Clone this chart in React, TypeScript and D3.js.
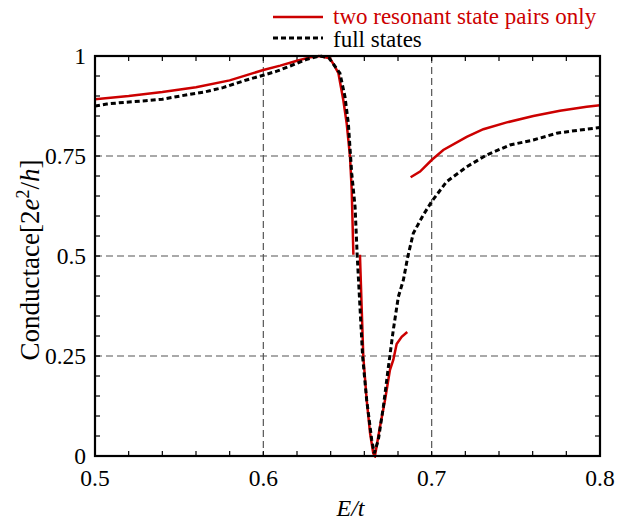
import React from "react";
import * as d3 from "d3";

const redE1 = [0.5, 0.52, 0.54, 0.56, 0.58, 0.6, 0.61, 0.62, 0.627, 0.633, 0.6396, 0.6426, 0.6446, 0.6475, 0.6495, 0.6515, 0.6525, 0.6535];
const redG1 = [0.892, 0.9, 0.91, 0.922, 0.939, 0.965, 0.976, 0.988, 0.996, 1.0, 0.994, 0.973, 0.957, 0.89, 0.832, 0.748, 0.665, 0.503];

const redE2 = [0.6574, 0.6584, 0.6594, 0.6614, 0.6634, 0.6653, 0.6663, 0.6693, 0.6723, 0.6752, 0.6772, 0.6792, 0.6822, 0.6855];
const redG2 = [0.503, 0.373, 0.248, 0.14, 0.057, 0.007, 0.0, 0.073, 0.14, 0.215, 0.24, 0.28, 0.298, 0.31];

const redE3 = [0.6875, 0.6931, 0.7, 0.7069, 0.7208, 0.7307, 0.7446, 0.7604, 0.7762, 0.7921, 0.8];
const redG3 = [0.697, 0.711, 0.74, 0.765, 0.798, 0.817, 0.834, 0.85, 0.863, 0.873, 0.877];

const fullE = [0.5, 0.507, 0.517, 0.53, 0.54, 0.556, 0.565, 0.576, 0.59, 0.6, 0.608, 0.616, 0.626, 0.6337, 0.639, 0.6416, 0.6455, 0.6485, 0.6505, 0.6525, 0.6545, 0.6558, 0.6574, 0.659, 0.6614, 0.6644, 0.6659, 0.6683, 0.6713, 0.6743, 0.6772, 0.6802, 0.6832, 0.6858, 0.6891, 0.695, 0.7, 0.7089, 0.7208, 0.7327, 0.7465, 0.7604, 0.7743, 0.7881, 0.8];
const fullG = [0.875, 0.88, 0.884, 0.888, 0.892, 0.904, 0.91, 0.921, 0.94, 0.952, 0.962, 0.975, 0.992, 1.0, 0.995, 0.98, 0.957, 0.898, 0.832, 0.707, 0.623, 0.498, 0.373, 0.248, 0.14, 0.04, 0.007, 0.04, 0.123, 0.223, 0.315, 0.398, 0.44, 0.498, 0.557, 0.6025, 0.636, 0.686, 0.723, 0.7525, 0.7775, 0.79, 0.807, 0.815, 0.821];

const xTicks = [0.5, 0.6, 0.7, 0.8];
const xTickLabels = ["0.5", "0.6", "0.7", "0.8"];
const yTicks = [0, 0.25, 0.5, 0.75, 1];
const yTickLabels = ["0", "0.25", "0.5", "0.75", "1"];
const xGrid = [0.6, 0.7];
const yGrid = [0.25, 0.5, 0.75];

const seriesNames = ["two resonant state pairs only", "full states"];

const W = 620;
const H = 524;
const left = 95;
const right = 600;
const top = 56;
const bottom = 456;
const FONT = "Liberation Serif, Times New Roman, DejaVu Serif, serif";
const RED = "#cc0000";
const fs = (size: number, extra: React.CSSProperties = {}): React.CSSProperties => ({ fontFamily: FONT, fontSize: size, ...extra });

export default function App() {
  const x = d3.scaleLinear().domain([0.5, 0.8]).range([left, right]);
  const y = d3.scaleLinear().domain([0, 1]).range([bottom, top]);
  const line = d3
    .line<[number, number]>()
    .x((d) => x(d[0]))
    .y((d) => y(d[1]))
    .curve(d3.curveLinear);
  const zip = (a: number[], b: number[]) => a.map((v, i) => [v, b[i]] as [number, number]);

  const xMinor = d3.range(0, 16).map((i) => 0.5 + i * 0.02);
  const yMinor = d3.range(0, 21).map((i) => i * 0.05);
  const tl = 5;

  return (
    <svg width={W} height={H} style={{ position: "absolute", left: 0, top: 0, background: "#fff" }}>
      <rect x={0} y={0} width={W} height={H} fill="#fff" />
      {xGrid.map((v) => (
        <line key={"gx" + v} x1={x(v)} x2={x(v)} y1={top} y2={bottom} stroke="#555" strokeWidth={1.2} strokeDasharray="7,4" />
      ))}
      {yGrid.map((v) => (
        <line key={"gy" + v} x1={left} x2={right} y1={y(v)} y2={y(v)} stroke="#555" strokeWidth={1.2} strokeDasharray="7,4" />
      ))}
      {xMinor.map((v, i) => (
        <g key={"xt" + i}>
          <line x1={x(v)} x2={x(v)} y1={bottom} y2={bottom - tl} stroke="#000" strokeWidth={1.2} />
          <line x1={x(v)} x2={x(v)} y1={top} y2={top + tl} stroke="#000" strokeWidth={1.2} />
        </g>
      ))}
      {yMinor.map((v, i) => (
        <g key={"yt" + i}>
          <line x1={left} x2={left + tl} y1={y(v)} y2={y(v)} stroke="#000" strokeWidth={1.2} />
          <line x1={right} x2={right - tl} y1={y(v)} y2={y(v)} stroke="#000" strokeWidth={1.2} />
        </g>
      ))}
      <defs>
        <clipPath id="clip">
          <rect x={left} y={top - 4} width={right - left} height={bottom - top + 6} />
        </clipPath>
      </defs>
      <g clipPath="url(#clip)">
        <path d={line(zip(redE1, redG1)) || ""} fill="none" stroke={RED} strokeWidth={2.5} />
        <path d={line(zip(redE2, redG2)) || ""} fill="none" stroke={RED} strokeWidth={2.5} />
        <path d={line(zip(redE3, redG3)) || ""} fill="none" stroke={RED} strokeWidth={2.5} />
        <path d={line(zip(fullE, fullG)) || ""} fill="none" stroke="#000" strokeWidth={3} strokeDasharray="5,3" />
      </g>
      <rect x={left} y={top} width={right - left} height={bottom - top} fill="none" stroke="#000" strokeWidth={2.2} />
      {xTicks.map((v, i) => (
        <text key={"xl" + i} x={x(v)} y={486} textAnchor="middle" style={fs(23.5)} fill="#000">
          {xTickLabels[i]}
        </text>
      ))}
      {yTicks.map((v, i) => (
        <text key={"yl" + i} x={86} y={y(v) + 8} textAnchor="end" style={fs(23.5)} fill="#000">
          {yTickLabels[i]}
        </text>
      ))}
      <text x={(left + right) / 2 + 3} y={516} textAnchor="middle" style={fs(24, { fontStyle: "italic" })} fill="#000">
        E/t
      </text>
      <text transform={`translate(39,260) rotate(-90)`} textAnchor="middle" style={fs(27)} fill="#000">
        Conductace[2<tspan style={{ fontStyle: "italic" }}>e</tspan>
        <tspan style={{ fontSize: 18 }} dy={-10}>2</tspan>
        <tspan dy={10}>/</tspan>
        <tspan style={{ fontStyle: "italic" }}>h</tspan>]
      </text>
      <line x1={273} x2={323} y1={17} y2={17} stroke={RED} strokeWidth={2.5} />
      <text x={333} y={24} style={fs(23)} fill={RED}>
        {seriesNames[0]}
      </text>
      <line x1={273} x2={323} y1={38} y2={38} stroke="#000" strokeWidth={3} strokeDasharray="5,3" />
      <text x={333} y={47} style={fs(23)} fill="#000">
        {seriesNames[1]}
      </text>
    </svg>
  );
}
